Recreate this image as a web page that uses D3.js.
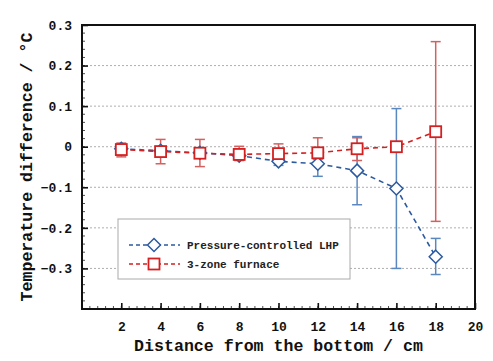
<!DOCTYPE html>
<html><head><meta charset="utf-8">
<script src="https://cdn.jsdelivr.net/npm/d3@7"></script>
<style>body{margin:0;background:#fff}</style>
</head><body>
<svg id="c" width="493" height="361"></svg>
<script>
const positions = [2, 4, 6, 8, 10, 12, 14, 16, 18];
const lhpValues = [-0.005, -0.010, -0.015, -0.022, -0.036, -0.042, -0.059, -0.103, -0.271];
const lhpLower  = [-0.015, -0.018, -0.022, -0.030, -0.046, -0.073, -0.143, -0.300, -0.315];
const lhpUpper  = [ 0.004, -0.003, -0.008, -0.012, -0.026, -0.030,  0.025,  0.094, -0.226];
const furValues = [-0.007, -0.012, -0.016, -0.019, -0.017, -0.015, -0.005, 0.000, 0.037];
const furLower  = [-0.025, -0.042, -0.049, -0.034, -0.028, -0.030, -0.034, -0.010, -0.184];
const furUpper  = [ 0.009,  0.018,  0.018,  0.001,  0.007,  0.022,  0.022,  0.010, 0.259];
const xTicks = [2, 4, 6, 8, 10, 12, 14, 16, 18, 20];
const yTicks = [-0.3, -0.2, -0.1, 0, 0.1, 0.2, 0.3];
const seriesNames = ["Pressure-controlled LHP", "3-zone furnace"];

const svg = d3.select("#c");
const L = 82, T = 25, R = 475, B = 309;
const x = d3.scaleLinear().domain([0, 20]).range([L, R]);
const y = d3.scaleLinear().domain([-0.4, 0.3]).range([B, T]);
const font = "'Liberation Mono', 'DejaVu Sans Mono', monospace";

// gridlines
svg.append("g").selectAll("line").data(yTicks.filter(v => v < 0.3)).join("line")
  .attr("x1", L).attr("x2", R).attr("y1", d => y(d)).attr("y2", d => y(d))
  .attr("stroke", "#999").attr("stroke-width", 0.8).attr("stroke-dasharray", "2,2");

// minor ticks
const xMinor = d3.range(0, 20.001, 0.4);
svg.append("g").selectAll("line").data(xMinor).join("line")
  .attr("x1", d => x(d)).attr("x2", d => x(d)).attr("y1", B).attr("y2", B - 3)
  .attr("stroke", "#222").attr("stroke-width", 0.8);
const yMinor = d3.range(-0.4, 0.3001, 0.02);
svg.append("g").selectAll("line").data(yMinor).join("line")
  .attr("x1", L).attr("x2", L + 3).attr("y1", d => y(d)).attr("y2", d => y(d))
  .attr("stroke", "#222").attr("stroke-width", 0.8);

// axes
const xAxis = d3.axisBottom(x).tickValues(xTicks).tickSizeInner(-6).tickSizeOuter(0).tickPadding(13).tickFormat(d3.format("d"));
const gx = svg.append("g").attr("transform", `translate(0,${B})`).call(xAxis);
const yAxis = d3.axisLeft(y).tickValues(yTicks).tickSizeInner(-6).tickSizeOuter(0).tickPadding(10)
  .tickFormat(d => d === 0 ? "0" : d3.format(".1f")(d));
const gy = svg.append("g").attr("transform", `translate(${L},0)`).call(yAxis);
[gx, gy].forEach(g => {
  g.select(".domain").remove();
  g.selectAll(".tick line").attr("stroke", "#111").attr("stroke-width", 1.6);
  g.selectAll("text").attr("font-family", font).attr("font-weight", "bold").attr("font-size", 13).attr("fill", "#111");
});

// frame
svg.append("rect").attr("x", L).attr("y", T).attr("width", R - L).attr("height", B - T)
  .attr("fill", "none").attr("stroke", "#111").attr("stroke-width", 2);

// error bars
function errBars(vals, lo, hi, color, dx) {
  const g = svg.append("g").attr("stroke", color).attr("stroke-width", 1.5);
  positions.forEach((p, i) => {
    const cx = x(p) + dx;
    g.append("line").attr("x1", cx).attr("x2", cx).attr("y1", y(lo[i])).attr("y2", y(hi[i]));
    g.append("line").attr("x1", cx - 5).attr("x2", cx + 5).attr("y1", y(lo[i])).attr("y2", y(lo[i]));
    g.append("line").attr("x1", cx - 5).attr("x2", cx + 5).attr("y1", y(hi[i])).attr("y2", y(hi[i]));
  });
}
errBars(lhpValues, lhpLower, lhpUpper, "#5b87c0", 0);
errBars(furValues, furLower, furUpper, "#d46060", 0);

const line = d3.line().x((d, i) => x(positions[i])).y(d => y(d));
svg.append("path").datum(lhpValues).attr("d", line).attr("fill", "none")
  .attr("stroke", "#2c5aa0").attr("stroke-width", 1.6).attr("stroke-dasharray", "5,4");
svg.append("path").datum(furValues).attr("d", line).attr("fill", "none")
  .attr("stroke", "#d42020").attr("stroke-width", 1.6).attr("stroke-dasharray", "5,4");

const diamond = (cx, cy, r) => `M${cx},${cy - r}L${cx + r},${cy}L${cx},${cy + r}L${cx - r},${cy}Z`;
svg.append("g").selectAll("path").data(lhpValues).join("path")
  .attr("d", (d, i) => diamond(x(positions[i]), y(d), 6.5))
  .attr("fill", "#fff").attr("stroke", "#2c5aa0").attr("stroke-width", 1.5);
svg.append("g").selectAll("rect").data(furValues).join("rect")
  .attr("x", (d, i) => x(positions[i]) - 5.5).attr("y", d => y(d) - 5.5)
  .attr("width", 11).attr("height", 11)
  .attr("fill", "#fff").attr("stroke", "#d42020").attr("stroke-width", 1.8);

// legend
const lg = svg.append("g");
lg.append("rect").attr("x", 118).attr("y", 219).attr("width", 232).attr("height", 60)
  .attr("fill", "#fff").attr("stroke", "#aaa").attr("stroke-width", 1);
const ly = [245, 264];
const lc = ["#2c5aa0", "#d42020"];
ly.forEach((yy, i) => {
  lg.append("line").attr("x1", 129).attr("x2", 180).attr("y1", yy).attr("y2", yy)
    .attr("stroke", lc[i]).attr("stroke-width", 1.6).attr("stroke-dasharray", "4,3");
  if (i === 0) lg.append("path").attr("d", diamond(154, yy, 6.5)).attr("fill", "#fff").attr("stroke", lc[i]).attr("stroke-width", 1.5);
  else lg.append("rect").attr("x", 148.5).attr("y", yy - 5.5).attr("width", 11).attr("height", 11).attr("fill", "#fff").attr("stroke", lc[i]).attr("stroke-width", 1.8);
  lg.append("text").attr("x", 187).attr("y", yy + 3.5).text(seriesNames[i])
    .attr("font-family", font).attr("font-weight", "bold").attr("font-size", 11).attr("fill", "#222");
});

// titles
svg.append("text").attr("x", (L + R) / 2).attr("y", 351).attr("text-anchor", "middle")
  .attr("font-family", font).attr("font-weight", "bold").attr("font-size", 16.6).attr("fill", "#111")
  .text("Distance from the bottom / cm");
svg.append("text").attr("transform", `translate(32,${(T + B) / 2}) rotate(-90)`).attr("text-anchor", "middle")
  .attr("font-family", font).attr("font-weight", "bold").attr("font-size", 16.6).attr("fill", "#111")
  .text("Temperature difference / °C");
</script>
</body></html>
